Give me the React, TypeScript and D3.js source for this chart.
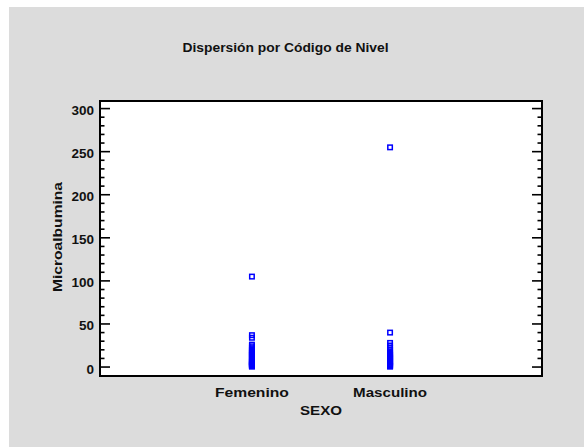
import React from "react";
import * as d3 from "d3";

const categories = ["Femenino", "Masculino"];
const femenino = [105, 37, 34, 26, 24, 22, 20, 19, 18, 17, 16, 15, 14, 13, 12, 11, 10, 9, 8, 7, 6, 5.5, 5, 4, 3.5, 3, 2.5, 2, 1.5, 1, 0.5];
const masculino = [255, 40, 28, 25, 22, 20, 18, 16, 15, 14, 13, 12, 11, 10, 9, 8, 7, 6, 5, 4, 3, 2, 1.5, 1, 0.5];
const seriesValues = [femenino, masculino];
const yMajorTicks = [0, 50, 100, 150, 200, 250, 300];
const title = "Dispersión por Código de Nivel";
const xTitle = "SEXO";
const yTitle = "Microalbumina";

const W = 584, H = 447;
const L = 100, T = 101, R = 542, B = 376;
const FONT = "'Liberation Sans', Arial, sans-serif";

export default function App() {
  const x = d3.scalePoint<string>().domain(categories).range([L, R]).padding(1.1);
  const y = d3.scaleLinear().domain([-10.4, 308.8]).range([B, T]);
  const minorTicks = d3.range(0, 301, 10).filter((v) => v % 50 !== 0);
  const pts: { cx: number; cy: number; k: string }[] = [];
  categories.forEach((c, i) => {
    seriesValues[i].forEach((v, j) => pts.push({ cx: x(c) as number, cy: y(v), k: c + j }));
  });
  const s = 4.5;
  return (
    <div style={{ position: "fixed", left: 0, top: 0 }}>
      <svg width={W} height={H} style={{ display: "block" }}>
        <rect x={0} y={0} width={W} height={H} fill="#ffffff" />
        <rect x={9} y={7} width={W - 9} height={H - 7} fill="#dcdcdc" />
        <rect x={L} y={T} width={R - L} height={B - T} fill="#ffffff" />
        <text x={285.5} y={51.5} textAnchor="middle" fontFamily={FONT} fontWeight="bold" fontSize={12.5} textLength={206} lengthAdjust="spacingAndGlyphs" fill="#111">{title}</text>
        {yMajorTicks.map((t) => (
          <g key={"M" + t}>
            <line x1={L} x2={L + 10} y1={y(t)} y2={y(t)} stroke="#000" strokeWidth={1.6} />
            <line x1={R} x2={R - 10} y1={y(t)} y2={y(t)} stroke="#000" strokeWidth={1.6} />
            <text x={94} y={y(t) + 6.5} textAnchor="end" fontFamily={FONT} fontWeight="bold" fontSize={13.5} fill="#111">{t}</text>
          </g>
        ))}
        {minorTicks.map((t) => (
          <g key={"m" + t}>
            <line x1={L} x2={L + 4.5} y1={y(t)} y2={y(t)} stroke="#000" strokeWidth={1.6} />
            <line x1={R} x2={R - 4.5} y1={y(t)} y2={y(t)} stroke="#000" strokeWidth={1.6} />
          </g>
        ))}
        <rect x={L} y={T} width={R - L} height={B - T} fill="none" stroke="#000" strokeWidth={2} />
        {pts.map((p) => (
          <rect key={p.k} x={p.cx - s / 2} y={p.cy - s / 2} width={s} height={s} fill="none" stroke="#0000ff" strokeWidth={1.5} />
        ))}
        {categories.map((c) => (
          <text key={c} x={x(c) as number} y={396.5} textAnchor="middle" fontFamily={FONT} fontWeight="bold" fontSize={13.5} textLength={74} lengthAdjust="spacingAndGlyphs" fill="#111">{c}</text>
        ))}
        <text x={321} y={415} textAnchor="middle" fontFamily={FONT} fontWeight="bold" fontSize={13.5} textLength={42} lengthAdjust="spacingAndGlyphs" fill="#111">{xTitle}</text>
        <text transform="translate(62,237) rotate(-90)" textAnchor="middle" fontFamily={FONT} fontWeight="bold" fontSize={13.5} textLength={110} lengthAdjust="spacingAndGlyphs" fill="#111">{yTitle}</text>
      </svg>
    </div>
  );
}
